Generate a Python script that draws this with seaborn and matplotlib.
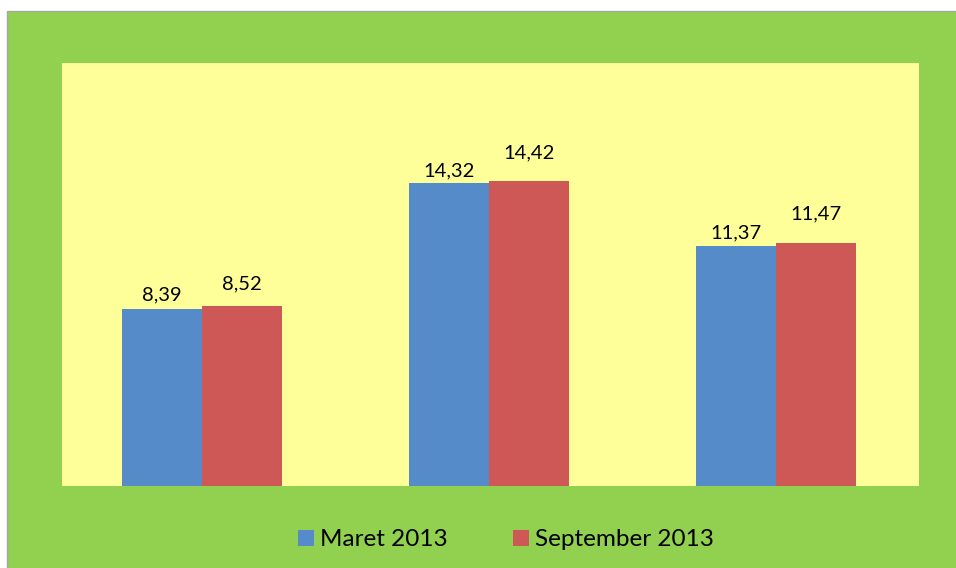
import matplotlib
matplotlib.use("Agg")
import matplotlib.pyplot as plt
from matplotlib.patches import Rectangle
import seaborn as sns
import pandas as pd

# Values per group for each period
groups = ["1", "2", "3"]
maret_2013 = [8.39, 14.32, 11.37]
september_2013 = [8.52, 14.42, 11.47]
series_names = ["Maret 2013", "September 2013"]

df = pd.DataFrame({
    "group": groups * 2,
    "value": maret_2013 + september_2013,
    "period": [series_names[0]] * 3 + [series_names[1]] * 3,
})

sns.set_theme(style="white")
plt.rcParams["font.family"] = ["Lato", "DejaVu Sans"]
plt.rcParams["text.color"] = "black"

BLUE = "#568BC9"
RED = "#CD5855"
GREEN = "#92D050"
YELLOW = "#FFFF99"

W, H = 956, 568
fig = plt.figure(figsize=(W / 100, H / 100), dpi=100)
fig.patch.set_facecolor("white")

# Green chart area with a thin grey frame, drawn behind the plot area
fig.patches.append(Rectangle((6.5 / W, -0.01), 1.02, (H - 10.5) / H + 0.01,
                             transform=fig.transFigure, facecolor=GREEN,
                             edgecolor="#A6A6A6", linewidth=1.0, zorder=-10))

ax = fig.add_axes([62 / W, 1 - 486 / H, (919 - 62) / W, (486 - 63) / H])
ax.set_facecolor(YELLOW)

sns.barplot(data=df, x="group", y="value", hue="period",
            palette=[BLUE, RED], width=0.56, gap=0, ax=ax,
            saturation=1, edgecolor="none", legend=True)

# Value labels above each bar (decimal comma); the second series sits a bit higher
label_pads = [[3.5, 3.0, 3.0], [10.0, 14.0, 15.0]]
for container, pads in zip(ax.containers, label_pads):
    for bar, v, pad in zip(container.patches, container.datavalues, pads):
        ax.annotate(f"{v:.2f}".replace(".", ","),
                    xy=(bar.get_x() + bar.get_width() / 2, bar.get_height()),
                    xytext=(0, pad), textcoords="offset points",
                    ha="center", va="bottom", fontsize=14.5, color="black")

ax.set_ylim(0, 20)
ax.set_xlim(-0.488, 2.498)
ax.set_xlabel("")
ax.set_ylabel("")
ax.set_xticks([])
ax.set_yticks([])
for s in ax.spines.values():
    s.set_visible(False)

handles, labels = ax.get_legend_handles_labels()
ax.legend_.remove()
fig.legend(handles, labels, loc="center", bbox_to_anchor=(506 / W, 1 - 540 / H),
           ncol=2, frameon=False, fontsize=17.5, handlelength=0.66, handleheight=0.66,
           handletextpad=0.25, columnspacing=2.7, labelcolor="black")

fig.savefig("out.png", dpi=100)
